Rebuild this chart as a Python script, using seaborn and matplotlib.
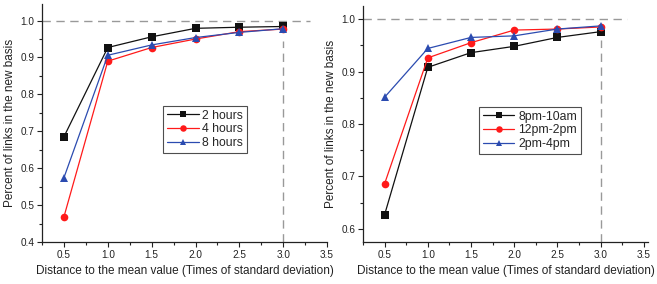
import numpy as np
import pandas as pd
import matplotlib
matplotlib.use("Agg")
import matplotlib.pyplot as plt
from matplotlib.ticker import MultipleLocator
import seaborn as sns

sns.set_style("ticks")
plt.rcParams['font.family'] = ['Liberation Sans', 'DejaVu Sans']

x = [0.5, 1.0, 1.5, 2.0, 2.5, 3.0]

left_labels = ["2 hours", "4 hours", "8 hours"]
h2 = [0.685, 0.927, 0.956, 0.979, 0.982, 0.984]
h4 = [0.468, 0.890, 0.927, 0.950, 0.970, 0.977]
h8 = [0.574, 0.906, 0.934, 0.954, 0.968, 0.978]

right_labels = ["8pm-10am", "12pm-2pm", "2pm-4pm"]
night = [0.627, 0.908, 0.936, 0.948, 0.965, 0.976]
noon = [0.686, 0.926, 0.955, 0.979, 0.981, 0.985]
aft = [0.851, 0.944, 0.965, 0.968, 0.981, 0.987]

xlabel = "Distance to the mean value (Times of standard deviation)"
ylabel = "Percent of links in the new basis"

colors = ["#111111", "#ff1a1a", "#2b4bb0"]
markers = ["s", "o", "^"]


def make_df(labels, series):
    rows = []
    for lab, ys in zip(labels, series):
        for xi, yi in zip(x, ys):
            rows.append({"x": xi, "y": yi, "series": lab})
    return pd.DataFrame(rows)


fig = plt.figure(figsize=(6.57, 2.84), dpi=100)
ax1 = fig.add_axes([0.0639, 0.148, 0.434, 0.838])
ax2 = fig.add_axes([0.5525, 0.148, 0.434, 0.831])

configs = [
    (ax1, make_df(left_labels, [h2, h4, h8]), left_labels, (0.25, 3.5), (0.4, 1.045),
     0.1, 0.05, (0.425, 0.374), 0.946),
    (ax2, make_df(right_labels, [night, noon, aft]), right_labels, (0.25, 3.55), (0.575, 1.025),
     0.1, 0.05, (0.407, 0.373), 0.96),
]

for ax, df, labels, xlim, ylim, ymaj, ymin, legpos, vtop in configs:
    ax.axhline(1.0, xmin=0, xmax=(3.3 - xlim[0]) / (xlim[1] - xlim[0]),
               color="#999999", lw=1.0, dashes=(6, 4), zorder=1)
    ax.plot([3.0, 3.0], [ylim[0], vtop], color="#999999", lw=1.0, dashes=(6, 4), zorder=1)
    sns.lineplot(data=df, x="x", y="y", hue="series", style="series",
                 hue_order=labels, style_order=labels,
                 palette=dict(zip(labels, colors)),
                 markers=dict(zip(labels, markers)), dashes=False,
                 markersize=5.5, markeredgewidth=0, linewidth=0.9, ax=ax, zorder=3)
    ax.set_xlim(*xlim)
    ax.set_ylim(*ylim)
    ax.xaxis.set_major_locator(MultipleLocator(0.5))
    ax.xaxis.set_minor_locator(MultipleLocator(0.25))
    ax.yaxis.set_major_locator(MultipleLocator(ymaj))
    ax.yaxis.set_minor_locator(MultipleLocator(ymin))
    ax.xaxis.set_major_formatter(matplotlib.ticker.FormatStrFormatter("%.1f"))
    ax.yaxis.set_major_formatter(matplotlib.ticker.FormatStrFormatter("%.1f"))
    ax.tick_params(axis="both", which="major", direction="out", length=3.5, width=0.8,
                   labelsize=7.2, color="#222222", labelcolor="#222222", pad=2)
    ax.tick_params(axis="both", which="minor", direction="out", length=2, width=0.8,
                   color="#222222")
    for s in ["top", "right"]:
        ax.spines[s].set_visible(False)
    for s in ["left", "bottom"]:
        ax.spines[s].set_linewidth(0.9)
        ax.spines[s].set_color("#222222")
    ax.set_xlabel(xlabel, fontsize=8.5, color="#222222", labelpad=4)
    ax.set_ylabel(ylabel, fontsize=8.5, color="#222222", labelpad=3)
    leg = ax.legend(loc="lower left", bbox_to_anchor=legpos, fontsize=8.8,
                    frameon=True, fancybox=False, edgecolor="#222222",
                    handlelength=2.6, handletextpad=0.3, borderpad=0.3,
                    labelspacing=0.15, borderaxespad=0, markerscale=0.85)
    leg.get_frame().set_linewidth(0.8)

fig.savefig("out.png", dpi=100)
